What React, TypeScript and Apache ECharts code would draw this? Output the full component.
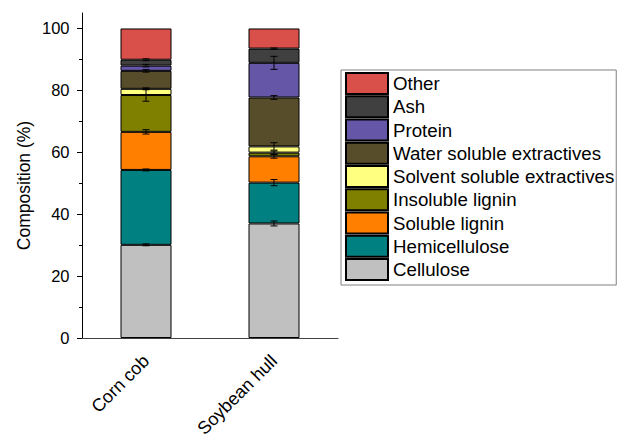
import React, { useEffect, useRef } from "react";
import * as echarts from "echarts";

const categories = ["Corn cob", "Soybean hull"];
const componentNames = [
  "Cellulose",
  "Hemicellulose",
  "Soluble lignin",
  "Insoluble lignin",
  "Solvent soluble extractives",
  "Water soluble extractives",
  "Protein",
  "Ash",
  "Other",
];
const cellulose = [30.1, 37.0];
const hemicellulose = [24.2, 13.2];
const solubleLignin = [12.3, 8.5];
const insolubleLignin = [11.9, 1.2];
const solventExtractives = [2.0, 2.0];
const waterExtractives = [5.8, 15.8];
const protein = [1.7, 11.2];
const ash = [1.9, 4.6];
const other = [10.1, 6.5];

const celluloseErr = [0.3, 0.8];
const hemicelluloseErr = [0.3, 1.0];
const solubleLigninErr = [0.7, 0.6];
const insolubleLigninErr = [2.0, 0.5];
const solventExtractivesErr = [0.3, 1.2];
const waterExtractivesErr = [0.4, 0.6];
const proteinErr = [0.4, 2.1];
const ashErr = [0.3, 0.2];
const otherErr = [0, 0];

const yTicks = [0, 20, 40, 60, 80, 100];
const yMinorTicks = [10, 30, 50, 70, 90];

const colors = [
  "#C0C0C0",
  "#008080",
  "#FF8000",
  "#808000",
  "#FFFF80",
  "#584D2B",
  "#6656A8",
  "#404040",
  "#D9504A",
];

const FONT = '"Liberation Sans", Arial, sans-serif';

export default function App() {
  const ref = useRef<HTMLDivElement>(null);
  useEffect(() => {
    document.body.style.margin = "0";
    if (!ref.current) return;
    const chart = echarts.init(ref.current, null, { renderer: "svg" });
    const values = [
      cellulose,
      hemicellulose,
      solubleLignin,
      insolubleLignin,
      solventExtractives,
      waterExtractives,
      protein,
      ash,
      other,
    ];
    const errs = [
      celluloseErr,
      hemicelluloseErr,
      solubleLigninErr,
      insolubleLigninErr,
      solventExtractivesErr,
      waterExtractivesErr,
      proteinErr,
      ashErr,
      otherErr,
    ];
    const errData: number[][] = [];
    categories.forEach((_, ci) => {
      let cum = 0;
      values.forEach((arr, si) => {
        cum += arr[ci];
        errData.push([ci, cum, errs[si][ci]]);
      });
    });

    const barSeries = componentNames.map((name, i) => ({
      name,
      type: "bar",
      stack: "total",
      barWidth: 51,
      xAxisIndex: 0,
      yAxisIndex: 0,
      data: values[i],
      itemStyle: { color: colors[i], borderColor: "#000", borderWidth: 1 },
    }));

    chart.setOption({
      animation: false,
      grid: {
        left: 82,
        top: 13,
        width: 256,
        height: 325,
        outerBoundsMode: "none",
      },
      legend: {
        orient: "vertical",
        left: 341,
        top: 70,
        itemWidth: 42,
        itemHeight: 21,
        itemGap: 0.25,
        padding: [2, 2, 4, 4],
        borderColor: "#808080",
        borderWidth: 1,
        icon: "rect",
        data: [...componentNames].reverse(),
        textStyle: { fontSize: 18.7, color: "#000", fontFamily: FONT },
      },
      xAxis: [
        {
          type: "category",
          data: categories,
          axisLine: { lineStyle: { color: "#404040", width: 1 } },
          axisTick: { alignWithLabel: true, length: 6, lineStyle: { color: "#000" } },
          axisLabel: {
            rotate: 45,
            margin: 20,
            fontSize: 18,
            color: "#000",
            fontFamily: FONT,
          },
        },
        {
          type: "category",
          data: categories,
          position: "bottom",
          axisLine: { show: false },
          axisTick: { length: 3, lineStyle: { color: "#000" } },
          axisLabel: { show: false },
        },
      ],
      yAxis: [
        {
          type: "value",
          min: 0,
          max: 105,
          interval: 20,
          splitLine: { show: false },
          axisLine: { show: true, lineStyle: { color: "#000", width: 1 } },
          axisTick: { show: true, length: 5, customValues: yTicks, lineStyle: { color: "#000" } },
          axisLabel: {
            customValues: yTicks,
            margin: 12.5,
            fontSize: 16.5,
            color: "#000",
            fontFamily: FONT,
          },
          name: "Composition (%)",
          nameLocation: "middle",
          nameGap: 49,
          nameTextStyle: {
            fontSize: 17.5,
            color: "#000",
            fontFamily: FONT,
            padding: [0, 20, 0, 0],
          },
        },
        {
          type: "value",
          min: 0,
          max: 105,
          interval: 20,
          position: "left",
          splitLine: { show: false },
          axisLine: { show: false },
          axisTick: { show: true, length: 3, customValues: yMinorTicks, lineStyle: { color: "#000" } },
          axisLabel: { show: false },
        },
      ],
      series: [
        ...barSeries,
        {
          type: "custom",
          name: "errors",
          xAxisIndex: 0,
          yAxisIndex: 0,
          z: 10,
          encode: { x: 0, y: 1 },
          data: errData,
          renderItem: (params: any, api: any) => {
            const x = api.value(0);
            const top = api.value(1);
            const e = api.value(2);
            if (!e) return null;
            const p1 = api.coord([x, top + e]);
            const p2 = api.coord([x, top - e]);
            const hw = 3.5;
            const st = { stroke: "#000", lineWidth: 1 };
            return {
              type: "group",
              children: [
                { type: "line", shape: { x1: p1[0], y1: p1[1], x2: p2[0], y2: p2[1] }, style: st },
                { type: "line", shape: { x1: p1[0] - hw, y1: p1[1], x2: p1[0] + hw, y2: p1[1] }, style: st },
                { type: "line", shape: { x1: p2[0] - hw, y1: p2[1], x2: p2[0] + hw, y2: p2[1] }, style: st },
              ],
            };
          },
        },
      ],
    });
    return () => chart.dispose();
  }, []);
  return <div ref={ref} style={{ width: 619, height: 439 }} />;
}
